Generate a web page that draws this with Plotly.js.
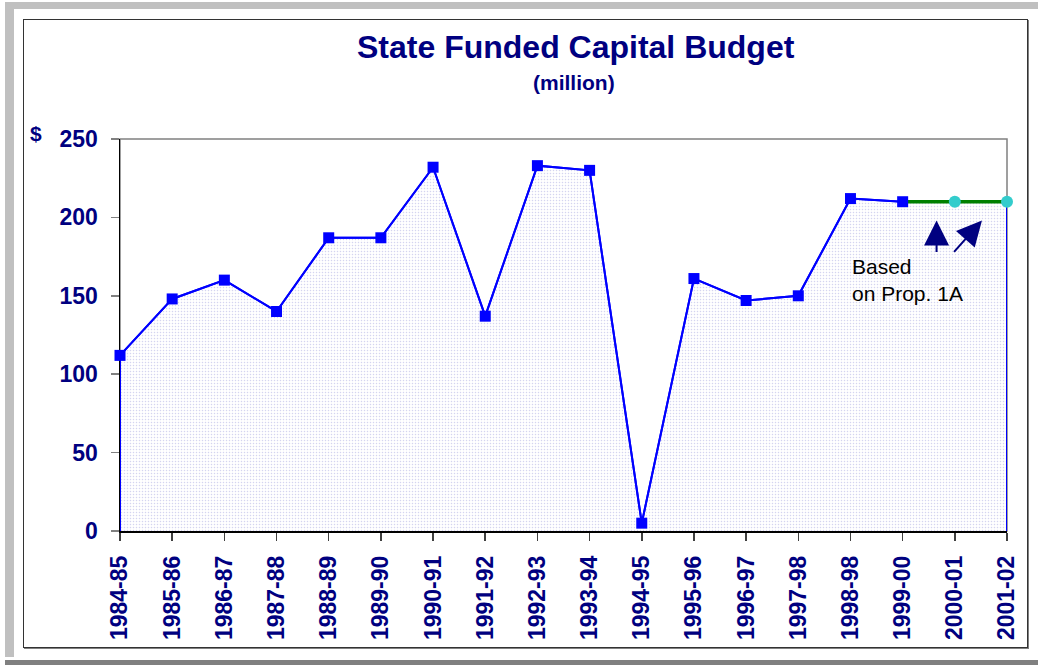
<!DOCTYPE html>
<html>
<head>
<meta charset="utf-8">
<script src="https://cdn.plot.ly/plotly-3.0.1.min.js"></script>
<style>
  html, body { margin: 0; padding: 0; background: #ffffff; }
  #wrap { position: relative; width: 1038px; height: 665px; overflow: hidden; background: #ffffff; }
  .band { position: absolute; }
  #chart { position: absolute; left: 0; top: 0; width: 1038px; height: 665px; }
</style>
</head>
<body>
<div id="wrap">
  <div class="band" style="left:5px;top:2px;width:1033px;height:7px;background:#c0c0c0"></div>
  <div class="band" style="left:5px;top:2px;width:9px;height:655px;background:#c0c0c0"></div>
  <div class="band" style="left:5px;top:660px;width:1033px;height:5px;background:#808080"></div>
  <div class="band" style="left:23px;top:19px;width:1003px;height:627px;border:1.5px solid #333333;box-shadow:1px 1px 0 #808080"></div>
  <div id="chart"></div>
</div>
<script>
// ---- data ----
const years = ['1984-85','1985-86','1986-87','1987-88','1988-89','1989-90','1990-91','1991-92',
               '1992-93','1993-94','1994-95','1995-96','1996-97','1997-98','1998-98','1999-00',
               '2000-01','2001-02'];
const budget = [112,148,160,140,187,187,232,137,233,230,5,161,147,150,212,210,210,210];
const projStart = 15; // 1999-00: projection based on Prop. 1A starts here
const yTicks = [0,50,100,150,200,250];

// ---- derived ----
const idx = years.map((_, i) => i);
const last = idx.length - 1;
const actualX = idx.slice(0, projStart + 1);
const actualY = budget.slice(0, projStart + 1);
const projX = idx.slice(projStart);
const projY = budget.slice(projStart);

const navy = '#000080';
const font = 'Liberation Sans, Arial, sans-serif';

const traces = [
  { // shaded area under the curve
    x: [0].concat(idx).concat([last]),
    y: [0].concat(budget).concat([0]),
    mode: 'lines', fill: 'toself',
    line: { color: '#0000ff', width: 2 },
    fillcolor: 'rgba(0,0,0,0)',
    fillpattern: { shape: '.', size: 3, solidity: 0.2, fgcolor: '#d4d4f0', bgcolor: '#ffffff' },
    hoverinfo: 'skip', showlegend: false
  },
  { // projection line
    x: projX, y: projY, mode: 'lines',
    line: { color: '#008000', width: 3.5 },
    showlegend: false
  },
  { // actual values
    x: actualX, y: actualY, mode: 'lines+markers',
    line: { color: '#0000ff', width: 2 },
    marker: { symbol: 'square', size: 11, color: '#0000ff' },
    cliponaxis: false, showlegend: false
  },
  { // projected markers
    x: projX.slice(1), y: projY.slice(1), mode: 'markers',
    marker: { symbol: 'circle', size: 12, color: '#33cccc' },
    cliponaxis: false, showlegend: false
  }
];

const layout = {
  width: 1038, height: 665,
  margin: { l: 120, r: 31, t: 139, b: 134 },
  paper_bgcolor: 'rgba(0,0,0,0)',
  plot_bgcolor: '#ffffff',
  showlegend: false,
  xaxis: {
    range: [0, last], tickmode: 'array', tickvals: idx, ticktext: years,
    tickangle: -90, ticks: 'outside', ticklen: 8, tickcolor: '#404040', tickwidth: 1.5,
    showline: true, linecolor: '#000000', linewidth: 1.5,
    showgrid: false, zeroline: false, layer: 'below traces',
    ticklabelstandoff: 6,
    tickfont: { family: font, size: 23, color: navy, weight: 'bold' }
  },
  yaxis: {
    range: [0, 250], tickmode: 'array', tickvals: yTicks,
    ticks: 'outside', ticklen: 8, tickcolor: '#808080', tickwidth: 1.5,
    showline: true, linecolor: '#000000', linewidth: 1.5,
    showgrid: false, zeroline: false, layer: 'below traces',
    ticklabelstandoff: 8,
    tickfont: { family: font, size: 23, color: navy, weight: 'bold' }
  },
  shapes: [
    { type: 'rect', xref: 'paper', yref: 'paper', x0: 0, x1: 1, y0: 0, y1: 1,
      line: { color: '#808080', width: 1.5 }, layer: 'below' }
  ],
  annotations: [
    { text: 'State Funded Capital Budget', xref: 'paper', yref: 'paper', x: 0.514, y: 1.235,
      xanchor: 'center', yanchor: 'middle', showarrow: false,
      font: { family: font, size: 32, color: navy, weight: 'bold' } },
    { text: '(million)', xref: 'paper', yref: 'paper', x: 0.512, y: 1.143,
      xanchor: 'center', yanchor: 'middle', showarrow: false,
      font: { family: font, size: 21, color: navy, weight: 'bold' } },
    { text: '$', xref: 'paper', yref: 'paper', x: -0.095, y: 1.013,
      xanchor: 'center', yanchor: 'middle', showarrow: false,
      font: { family: font, size: 21, color: navy, weight: 'bold' } },
    { text: 'Based<br>on Prop. 1A', xref: 'x', yref: 'y', x: 14.0, y: 160,
      xanchor: 'left', yanchor: 'middle', align: 'left', showarrow: false,
      font: { family: font, size: 21, color: '#000000' } },
    { text: '', xref: 'x', yref: 'y', x: 15.65, y: 198, axref: 'x', ayref: 'y', ax: 15.65, ay: 177,
      showarrow: true, arrowhead: 2, arrowsize: 2.5, arrowwidth: 2, arrowcolor: navy, standoff: 0 },
    { text: '', xref: 'x', yref: 'y', x: 16.52, y: 198, axref: 'x', ayref: 'y', ax: 15.96, ay: 177,
      showarrow: true, arrowhead: 2, arrowsize: 2.5, arrowwidth: 2, arrowcolor: navy, standoff: 0 }
  ]
};

Plotly.newPlot('chart', traces, layout, { displayModeBar: false, staticPlot: true });
</script>
</body>
</html>
